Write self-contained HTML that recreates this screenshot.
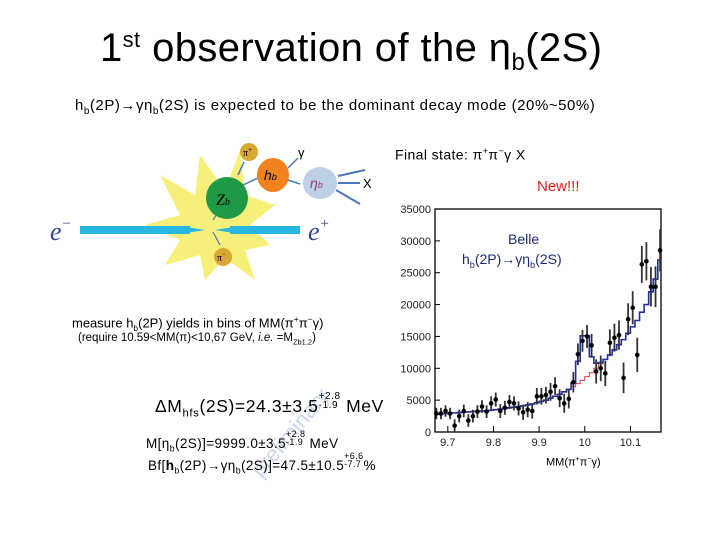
<!DOCTYPE html>
<html><head><meta charset="utf-8"><style>
body{margin:0;width:720px;height:540px;background:#fff;position:relative;overflow:hidden;font-family:"Liberation Sans",sans-serif;color:#000}
.t{position:absolute;white-space:nowrap}
sub,sup{font-size:65%}
</style></head><body>
<div class="t" style="left:100px;top:26px;font-size:40px;letter-spacing:0.4px">1<sup style="font-size:55%;vertical-align:14px">st</sup> observation of the η<sub style="font-size:60%">b</sub>(2S)</div>
<div class="t" style="left:75px;top:97px;font-size:15px;letter-spacing:0.55px">h<sub>b</sub>(2P)→γη<sub>b</sub>(2S) is expected to be the dominant decay mode (20%~50%)</div>

<svg style="position:absolute;left:30px;top:130px" width="360" height="150">
 <polygon points="170,25 195,60 210,20 215,65 245,75 220,95 240,115 215,120 225,150 195,128 175,150 170,125 135,135 150,110 115,95 150,85 130,45 165,65" fill="#f6f07a"/>
 <rect x="50" y="96" width="110" height="8" fill="#27b7e0"/><polygon points="150,96 175,100 150,104" fill="#27b7e0"/>
 <rect x="200" y="96" width="70" height="8" fill="#27b7e0"/><polygon points="210,96 185,100 210,104" fill="#27b7e0"/>
 <text x="20" y="110" font-size="26" font-style="italic" fill="#35468f" font-family="Liberation Serif">e<tspan font-size="15" dy="-12">−</tspan></text>
 <text x="278" y="110" font-size="26" font-style="italic" fill="#35468f" font-family="Liberation Serif">e<tspan font-size="15" dy="-12">+</tspan></text>
 <line x1="208" y1="45" x2="214" y2="32" stroke="#4a78b8" stroke-width="1.5"/><line x1="213" y1="55" x2="228" y2="48" stroke="#4a78b8" stroke-width="1.5"/>
 <line x1="183" y1="90" x2="190" y2="79" stroke="#4a78b8" stroke-width="1.2"/><line x1="183" y1="102" x2="190" y2="115" stroke="#4a78b8" stroke-width="1.2"/>
 <circle cx="197" cy="68" r="21" fill="#1e9a46"/><text x="186" y="75" font-size="16" font-family="Liberation Serif" font-style="italic">Z<tspan font-size="10">b</tspan></text>
 <circle cx="219" cy="22" r="9" fill="#d8a830"/><text x="213" y="26" font-size="10" font-family="Liberation Serif">π<tspan font-size="7" dy="-4">+</tspan></text>
 <circle cx="193" cy="127" r="9" fill="#d8a830"/><text x="187" y="131" font-size="10" font-family="Liberation Serif">π<tspan font-size="7" dy="-4">−</tspan></text>
 <ellipse cx="243" cy="45" rx="16" ry="17" fill="#f2821e"/><text x="234" y="50" font-size="14" font-style="italic">h<tspan font-size="9">b</tspan></text>
 <ellipse cx="290" cy="53" rx="17" ry="16" fill="#bdd0e6"/><text x="280" y="58" font-size="14" font-style="italic" fill="#a0406a">η<tspan font-size="9">b</tspan></text>
 <line x1="308" y1="46" x2="335" y2="40" stroke="#4a78b8" stroke-width="2"/><line x1="308" y1="53" x2="330" y2="53" stroke="#4a78b8" stroke-width="2"/><line x1="306" y1="60" x2="330" y2="74" stroke="#4a78b8" stroke-width="2"/>
 <line x1="258" y1="38" x2="268" y2="28" stroke="#4a78b8" stroke-width="1.5"/><line x1="258" y1="50" x2="270" y2="54" stroke="#4a78b8" stroke-width="1.5"/>
 <text x="268" y="27" font-size="13">γ</text><text x="333" y="58" font-size="13">X</text>
</svg>

<div class="t" style="left:395px;top:146px;font-size:14px;letter-spacing:0.4px">Final state: π<sup>+</sup>π<sup>−</sup>γ X</div>
<div class="t" style="left:537px;top:178px;font-size:15px;color:#e02020;">New!!!</div>

<div class="t" style="left:72px;top:314px;font-size:13px;">measure h<sub>b</sub>(2P) yields in bins of MM(π<sup>+</sup>π<sup>−</sup>γ)</div>
<div class="t" style="left:78px;top:332px;font-size:11.5px;">(require 10.59&lt;MM(π)&lt;10,67 GeV, <i>i.e.</i> =M<sub>Zb1,2</sub>)</div>
<div class="t" style="left:246px;top:466px;font-size:22px;color:#c9d8ec;transform:rotate(-50deg);transform-origin:left top">preliminary</div>
<div class="t" style="left:155px;top:392px;font-size:17.5px;letter-spacing:0.6px">ΔM<sub>hfs</sub>(2S)=24.3±3.5<span style="font-size:10px;display:inline-block;line-height:9px;vertical-align:4px">+2.8<br>-1.9</span> MeV</div>
<div class="t" style="left:146px;top:430px;font-size:13.5px;letter-spacing:0.4px">M[η<sub>b</sub>(2S)]=9999.0±3.5<span style="font-size:9px;display:inline-block;line-height:8px;vertical-align:3px">+2.8<br>-1.9</span> MeV</div>
<div class="t" style="left:148px;top:452px;font-size:13.5px;letter-spacing:0.4px">Bf[<b>h</b><sub>b</sub>(2P)→γη<sub>b</sub>(2S)]=47.5±10.5<span style="font-size:9px;display:inline-block;line-height:8px;vertical-align:3px">+6.6<br>-7.7</span>%</div>

<svg id="chart" style="position:absolute;left:0;top:0" width="720" height="540"></svg>
<div class="t" style="left:546px;top:455px;font-size:11px;">MM(π<sup>+</sup>π<sup>−</sup>γ)</div>
<div class="t" style="left:508px;top:231px;font-size:14px;color:#1b2a7a;">Belle</div>
<div class="t" style="left:462px;top:251px;font-size:14px;color:#1b2a7a;">h<sub>b</sub>(2P)→γη<sub>b</sub>(2S)</div>

<script>
const xTicks=[9.7,9.8,9.9,10,10.1];
const xTickLabels=["9.7","9.8","9.9","10","10.1"];
const yTicks=[0,5000,10000,15000,20000,25000,30000,35000];
const binCenters=[9.675,9.685,9.695,9.705,9.715,9.725,9.735,9.745,9.755,9.765,9.775,9.785,9.795,9.805,9.815,9.825,9.835,9.845,9.855,9.865,9.875,9.885,9.895,9.905,9.915,9.925,9.935,9.945,9.955,9.965,9.975,9.985,9.995,10.005,10.015,10.025,10.035,10.045,10.055,10.065,10.075,10.085,10.095,10.105,10.115,10.125,10.135,10.145,10.155,10.165];
const dataY=[2900,2900,3300,2900,1000,2500,3300,1800,2500,3200,4000,3200,4500,5100,3300,3800,4700,4500,3700,3100,3500,3300,5600,5600,5800,6300,7200,5300,4500,5200,7800,12200,14300,15000,13600,9500,10000,9200,14000,14800,15200,8500,17700,19500,12100,26300,26800,22800,22800,28500];
const dataErr=[900,900,900,900,1000,1000,1000,1000,1000,1000,1000,1000,1100,1100,1100,1100,1100,1100,1100,1200,1200,1200,1300,1300,1300,1400,1400,1400,1500,1500,1600,1700,1700,1800,1800,1900,2000,2000,2100,2200,2300,2400,2500,2600,2700,2900,3000,3100,3200,3300];
const background=[2800,2850,2900,2950,3000,3050,3100,3150,3200,3250,3300,3350,3400,3500,3600,3700,3800,3900,4000,4100,4250,4400,4600,4800,5000,5300,5600,5900,6300,6700,7100,7600,8100,8700,9300,10000,10700,11400,12100,12900,13700,14500,15500,16500,17500,18800,20000,22000,24000,27000];
const signal=[0,0,0,0,0,0,0,0,0,0,0,0,0,0,0,0,0,0,0,0,0,0,0,0,0,0,0,0,0,0,600,3500,7000,6400,2500,800,200,0,0,0,0,0,0,0,0,0,0,0,0,0];
const X0=435,X1=661,Y0=432,Y1=209,xmin=9.672,xmax=10.167,ymax=35000;
const sx=v=>X0+(v-xmin)/(xmax-xmin)*(X1-X0);
const sy=v=>Y0-Math.max(0,Math.min(v,ymax))/ymax*(Y0-Y1);
const svg=document.getElementById('chart'),NS='http://www.w3.org/2000/svg';
function mk(t,a){const e=document.createElementNS(NS,t);for(const k in a)e.setAttribute(k,a[k]);svg.appendChild(e);return e;}
const frame=mk('rect',{x:X0,y:Y1,width:X1-X0,height:Y0-Y1,fill:'none',stroke:'#000','stroke-width':1.3});


yTicks.forEach(v=>{
 const l=mk('line',{x1:X0,x2:X0+5,y1:sy(v),y2:sy(v),stroke:'#000'});
 
 
 const t=mk('text',{x:X0-4,y:sy(v)+4,'font-size':11,'text-anchor':'end',fill:'#222'});t.textContent=v;
 
 
});
xTicks.forEach((v,i)=>{
 const l=mk('line',{x1:sx(v),x2:sx(v),y1:Y0,y2:Y0-6,stroke:'#000'});
 
 
 const t=mk('text',{x:sx(v),y:Y0+14,'font-size':11,'text-anchor':'middle',fill:'#222'});t.textContent=xTickLabels[i];
 
 
});
function stepPath(vals){let d='';binCenters.forEach((c,i)=>{const a=sx(Math.max(xmin,c-0.005)),b=sx(Math.min(xmax,c+0.005)),y=sy(vals[i]);d+=(i?'L':'M')+a+','+y+'L'+b+','+y;});return d;}
const bg=mk('path',{d:stepPath(background),fill:'none',stroke:'#d04040','stroke-width':1});


const tot=mk('path',{d:stepPath(background.map((b,i)=>b+signal[i])),fill:'none',stroke:'#2030a0','stroke-width':1.6});


binCenters.forEach((c,i)=>{
 const e=mk('line',{x1:sx(c),x2:sx(c),y1:sy(dataY[i]+dataErr[i]),y2:sy(dataY[i]-dataErr[i]),stroke:'#333','stroke-width':1.8});
 
 
 const p=mk('circle',{cx:sx(c),cy:sy(dataY[i]),r:2.3,fill:'#000'});
 
 
});
</script>
</body></html>
